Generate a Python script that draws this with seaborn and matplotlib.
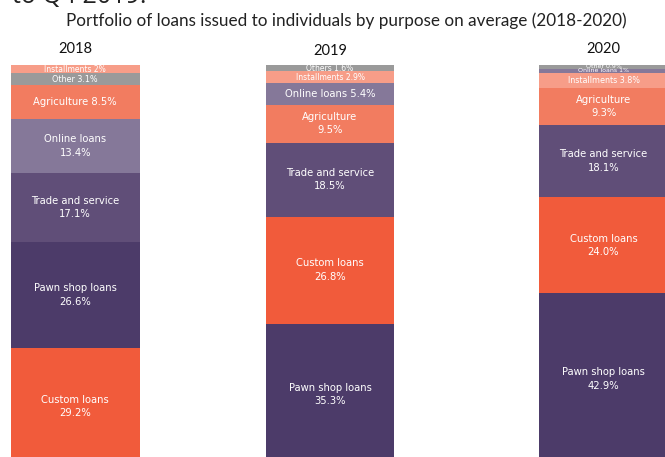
import pandas as pd
import seaborn as sns
import matplotlib.pyplot as plt

sns.set_style("white")
plt.rcParams['font.family'] = ['DejaVu Sans']

# Data, listed bottom segment first
years = ["2018", "2019", "2020"]

purposes_2018 = ["Custom loans", "Pawn shop loans", "Trade and service", "Online loans",
                 "Agriculture", "Other", "Installments"]
shares_2018 = [29.2, 26.6, 17.1, 13.4, 8.5, 3.1, 2.0]

purposes_2019 = ["Pawn shop loans", "Custom loans", "Trade and service", "Agriculture",
                 "Online loans", "Installments", "Others"]
shares_2019 = [35.3, 26.8, 18.5, 9.5, 5.4, 2.9, 1.6]

purposes_2020 = ["Pawn shop loans", "Custom loans", "Trade and service", "Agriculture",
                 "Installments", "Online loans", "Other"]
shares_2020 = [42.9, 24.0, 18.1, 9.3, 3.8, 1.0, 0.9]

colors = {
    "Custom loans": "#F15B3B",
    "Pawn shop loans": "#4C3B69",
    "Trade and service": "#604E78",
    "Online loans": "#857899",
    "Agriculture": "#F27C60",
    "Other": "#9A9A9A",
    "Others": "#9A9A9A",
    "Installments": "#F79D88",
}

# axes boxes in pixels: left, width (figure 665 x 457)
W, H = 665, 457
ax_px = [(10.5, 129.5), (266, 128), (539, 129)]
bar_top, bar_bottom = 65, 465

fig = plt.figure(figsize=(W / 100, H / 100), dpi=100)

# cut-off heading remnant at the very top
fig.text(12 / W, 1 - 3 / H, "to Q4 2019.", fontsize=18, family="Open Sans",
         ha="left", va="baseline", color="#222222")
fig.text(346 / W, 1 - 21 / H,
         "Portfolio of loans issued to individuals by purpose on average (2018-2020)",
         fontsize=12.3, family="Lato", ha="center", va="center", color="#222222")

year_y = [49, 51, 49]

data = [(purposes_2018, shares_2018), (purposes_2019, shares_2019), (purposes_2020, shares_2020)]

for i, (year, (purposes, shares)) in enumerate(zip(years, data)):
    left, width = ax_px[i]
    ax = fig.add_axes([left / W, (H - bar_bottom) / H, width / W, (bar_bottom - bar_top) / H])
    df = pd.DataFrame({"purpose": purposes, "share": shares})
    df["top"] = df["share"].cumsum()
    df["mid"] = df["top"] - df["share"] / 2
    df["year"] = year

    # draw cumulative bars from the tallest down so each segment shows
    for _, row in df.iloc[::-1].iterrows():
        sns.barplot(x=[row["year"]], y=[row["top"]], color=colors[row["purpose"]],
                    saturation=1, width=1, linewidth=0, ax=ax)

    for _, row in df.iterrows():
        v = row["share"]
        pct = f"{v:g}%" if (v < 5 and v == int(v)) else f"{v:.1f}%"
        sep = "\n" if v >= 9 else " "
        fs = 7.2 if v >= 5 else (5.8 if v >= 3 else (5.5 if v >= 1.5 else 4.5))
        ax.text(0, row["mid"], row["purpose"] + sep + pct, ha="center", va="center",
                color="white", fontsize=fs, linespacing=1.45)

    ax.set_xlim(-0.5, 0.5)
    ax.set_ylim(0, df["top"].iloc[-1])
    ax.axis("off")

    fig.text((left + width / 2) / W, 1 - year_y[i] / H, year, fontsize=10.5,
             family="Lato", ha="center", va="center", color="#111111")

plt.savefig("out.png", dpi=100)
